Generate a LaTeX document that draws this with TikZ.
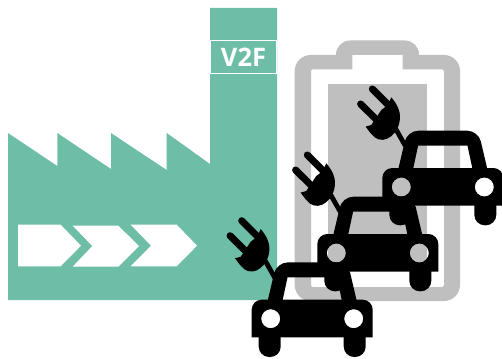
\documentclass[tikz,border=0pt]{standalone}
\usepackage{fontspec}
\setsansfont{Open Sans}
\definecolor{factory}{HTML}{6EBEA7}
\definecolor{battery}{HTML}{BFBFBF}
\tikzset{
  arrowband/.style={fill=white},
  evcar/.pic={
    % body, wheels are holes
    \fill[black, even odd rule] (-60.5,18.6) [rounded corners=10pt] -- (-60.5,-19) -- (60.5,-19)
      [sharp corners] -- (60.5,18.6) -- cycle
      (-41.5,0) circle[radius=9.5pt] (41.5,0) circle[radius=9.5pt];
    \foreach \side in {-1,1} {
      \fill[black, rounded corners=10.5pt] (\side*31.5,15) -- (\side*31.5,38.3) -- (\side*53.5,38.3)
        [sharp corners] -- (\side*53.5,15) -- cycle;
    }
    % roof, window is a hole
    \fill[black, even odd rule] (-44.5,-18) [rounded corners=11pt] -- (-35.5,-56.3) -- (35.5,-56.3)
      [sharp corners] -- (44.5,-18) -- cycle
      (-29.7,-18) -- (-24.7,-41.3) -- (24.7,-41.3) -- (29.7,-18) -- cycle;
    % plug
    \draw[black, line width=4.8pt] (-47,-58) -- (-37.4,-41);
    \draw[black, line width=7pt, line cap=round] (-70.5,-98) -- (-55,-82.5);
    \draw[black, line width=7pt, line cap=round] (-82.2,-83) -- (-66,-67);
    \fill[black] (-51.5,-89.7) .. controls (-45,-82) and (-43,-76) .. (-42.8,-71)
      .. controls (-42.8,-62) and (-46,-55) .. (-52,-50.5)
      .. controls (-57,-46.5) and (-63,-46) .. (-68,-49.5)
      -- (-72.2,-53.7) -- (-77.2,-60.4) -- (-71.5,-62) -- (-61.5,-77) -- (-55,-82) -- cycle;
  }
}
\begin{document}
\begin{tikzpicture}[x=1pt, y=-1pt]
  \useasboundingbox (0,0) rectangle (502,358);
  % factory
  \fill[factory] (8,133) -- (57.3,166) -- (57.3,133) -- (111,169) -- (111,133) -- (166.7,170) -- (166.7,133)
    -- (210,164) -- (210,8) -- (277,8) -- (277,300) -- (8,300) -- cycle;
  \node[draw=white, line width=1pt, fill=factory, text=white, inner sep=0pt, minimum width=65.5pt, minimum height=33pt,
        font=\sffamily\bfseries\fontsize{25.5}{25.5}\selectfont] (V2F) at (243.5,57) {V2F};
  \fill[arrowband] (18,224.7) -- (60.7,224.7) -- (81,245.7) -- (60.7,266.3) -- (18,266.3) -- cycle;
  \fill[arrowband] (72.7,225.7) -- (118.3,225.7) -- (139,246) -- (118.3,266.7) -- (72.7,266.7) -- (92.3,246) -- cycle;
  \fill[arrowband] (130.7,224.7) -- (176.7,224.7) -- (197,245.7) -- (176.7,266.3) -- (130.7,266.3) -- (151,245.7) -- cycle;
  % battery
  \fill[battery, even odd rule] (294.7,270) [rounded corners=16pt] -- (294.7,55) [sharp corners] -- (336,55)
      [rounded corners=14pt] -- (336,40.5) -- (419,40.5) [sharp corners] -- (419,55)
      [rounded corners=16pt] -- (460,55) -- (460,301) -- (294.7,301) [sharp corners] -- cycle
    (311,270) [rounded corners=2pt] -- (311,69.3) [sharp corners] -- (352.3,69.3) -- (352.3,55) -- (402.7,55)
      -- (402.7,69.3) [rounded corners=2pt] -- (444,69.3) -- (444,287) -- (311,287) [sharp corners] -- cycle;
  \fill[battery] (328,84) rectangle (427,268);
  % cars
  \foreach \carx/\cary in {442.8/187, 377.8/253, 312.2/318.7} {
    \pic at (\carx,\cary) {evcar};
  }
\end{tikzpicture}
\end{document}
